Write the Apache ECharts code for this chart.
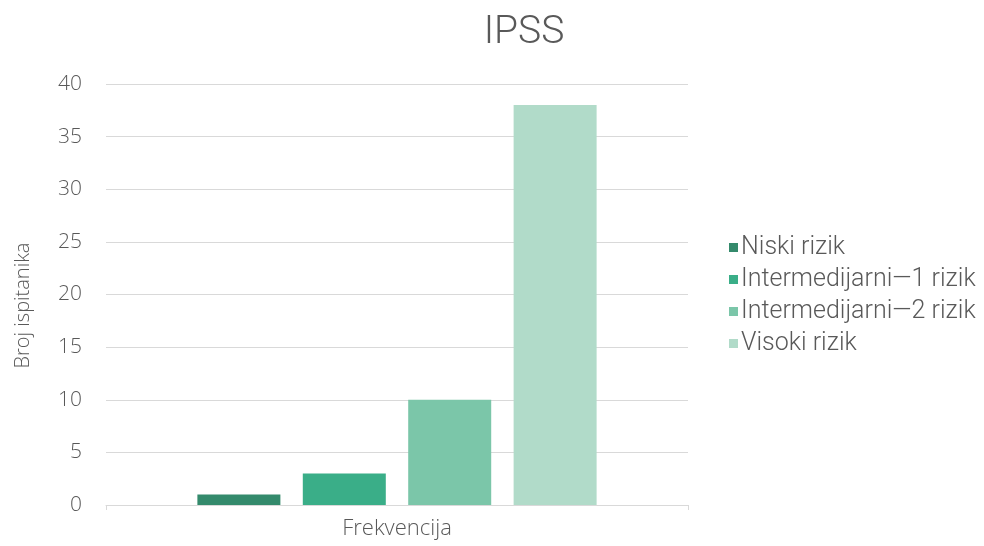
<!DOCTYPE html>
<html><head><meta charset="utf-8">
<script src="https://cdn.jsdelivr.net/npm/echarts@6/dist/echarts.min.js"></script>
<style>html,body{margin:0;padding:0;background:#fff}#c{width:984px;height:546px}</style>
</head><body><div id="c"></div>
<script>
const categories = ['Frekvencija'];
const seriesNames = ['Niski rizik', 'Intermedijarni—1 rizik', 'Intermedijarni—2 rizik', 'Visoki rizik'];
const seriesValues = [[1], [3], [10], [38]];
const colors = ['#348a6c', '#3aae88', '#7bc6a9', '#b1dbc9'];
const yTicks = [0, 5, 10, 15, 20, 25, 30, 35, 40];

const chart = echarts.init(document.getElementById('c'));
chart.setOption({
  animation: false,
  title: {text: 'IPSS', left: 519, top: 9, textAlign: 'center',
    textStyle: {fontFamily: 'Roboto', fontWeight: 300, fontSize: 39, color: '#595959'}},
  legend: {orient: 'vertical', left: 724, top: 230, itemWidth: 9, itemHeight: 9, itemGap: 7,
    icon: 'rect', textStyle: {fontFamily: 'Roboto', fontWeight: 300, fontSize: 25, lineHeight: 25, color: '#595959', padding: [0,0,0,-2]},
    data: seriesNames},
  grid: {left: 106, right: 296, top: 84, bottom: 41},
  xAxis: {type: 'category', data: categories,
    axisLine: {lineStyle: {color: '#d9d9d9'}},
    axisTick: {show: true, length: 5, lineStyle: {color: '#d9d9d9'}},
    axisLabel: {fontFamily: 'Open Sans', fontWeight: 300, fontSize: 22, color: '#595959', margin: 13}},
  yAxis: {type: 'value', min: 0, max: 40, interval: 5,
    name: 'Broj ispitanika', nameLocation: 'middle', nameGap: 73,
    nameTextStyle: {fontFamily: 'Open Sans', fontWeight: 300, fontSize: 20, color: '#595959', padding: [0, 22, 0, 0]},
    axisLine: {show: false}, axisTick: {show: false},
    axisLabel: {fontFamily: 'Open Sans', fontWeight: 300, fontSize: 21, color: '#595959', margin: 24,
      formatter: v => yTicks.includes(v) ? String(v) : ''},
    splitLine: {lineStyle: {color: '#d9d9d9'}}},
  series: seriesNames.map((n, i) => ({
    name: n, type: 'bar', data: seriesValues[i], barWidth: 83, barGap: '27%',
    itemStyle: {color: colors[i]}
  }))
});
</script></body></html>
